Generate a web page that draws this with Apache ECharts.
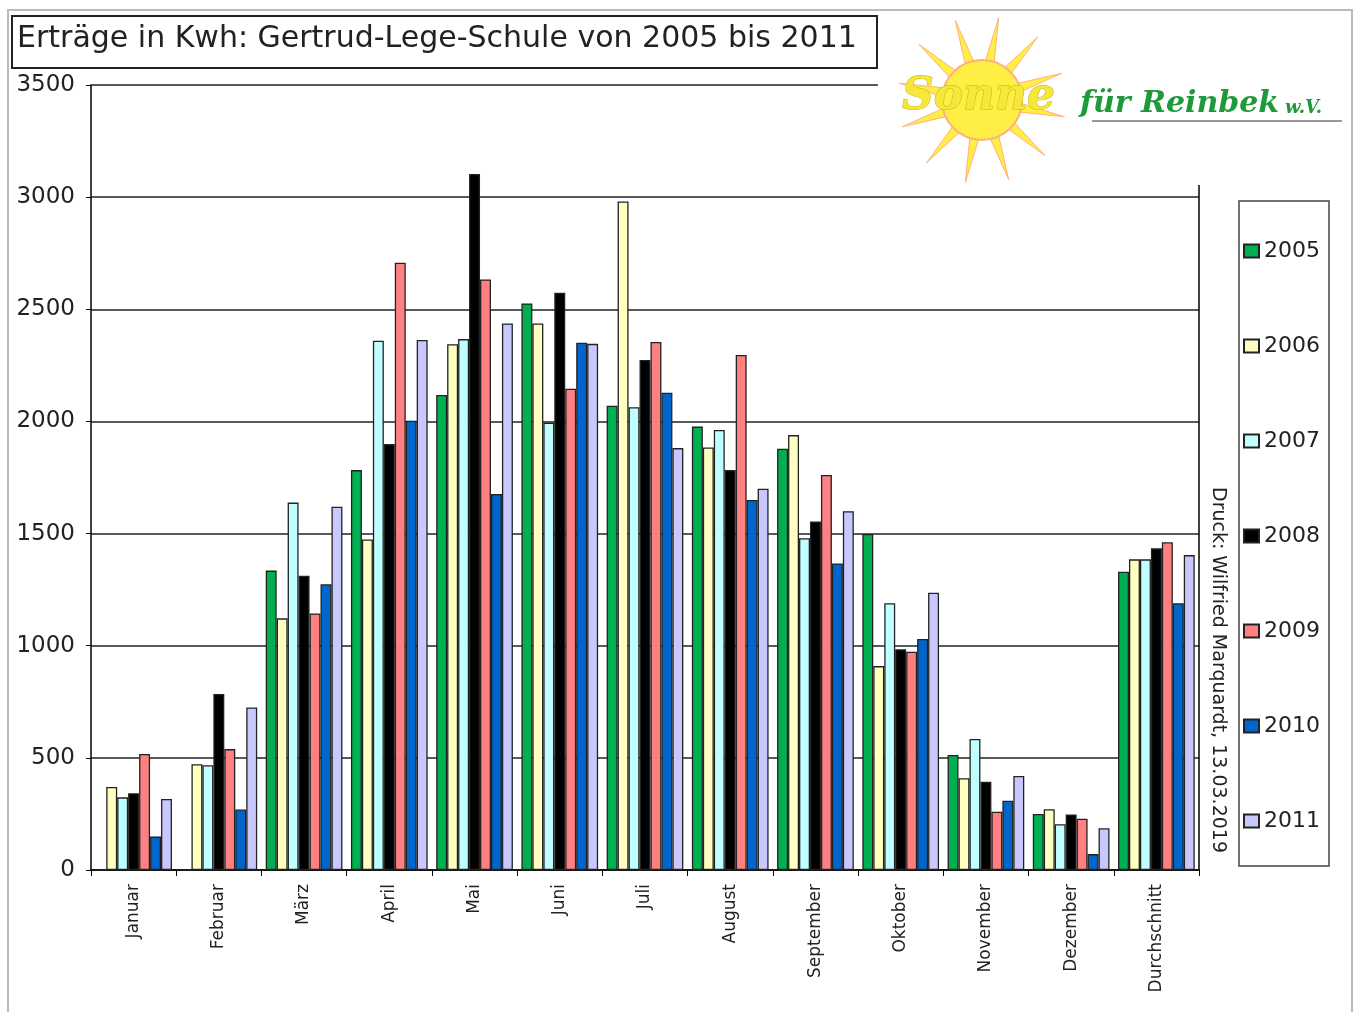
<!DOCTYPE html>
<html>
<head>
<meta charset="utf-8">
<script src="https://cdn.jsdelivr.net/npm/echarts@6/dist/echarts.min.js"></script>
<style>
  html, body { margin: 0; padding: 0; background: #fff; }
  #chart { width: 1354px; height: 1012px; }
</style>
</head>
<body>
<div id="chart"></div>
<script>
const months = ['Januar', 'Februar', 'März', 'April', 'Mai', 'Juni', 'Juli',
  'August', 'September', 'Oktober', 'November', 'Dezember', 'Durchschnitt']
const years = ['2005', '2006', '2007', '2008', '2009', '2010', '2011']
const yearColors = ['#00b050', '#ffffc0', '#c0ffff', '#000000', '#ff8080', '#0066cc', '#c8c8ff']

// Ertrag je Monat, eine Liste pro Jahr
const y2005 = [0, 0, 1335, 1783, 2118, 2526, 2070, 1977, 1878, 1498, 513, 250, 1330]
const y2006 = [370, 472, 1122, 1474, 2344, 2437, 2981, 1884, 1939, 909, 409, 271, 1385]
const y2007 = [324, 467, 1638, 2360, 2367, 1994, 2063, 1962, 1479, 1189, 584, 204, 1385]
const y2008 = [342, 785, 1312, 1899, 3103, 2574, 2274, 1783, 1554, 984, 394, 248, 1434]
const y2009 = [517, 539, 1144, 2708, 2633, 2146, 2354, 2296, 1761, 973, 260, 229, 1461]
const y2010 = [149, 270, 1274, 2003, 1676, 2351, 2128, 1650, 1367, 1030, 309, 71, 1189]
const y2011 = [317, 725, 1620, 2363, 2437, 2346, 1881, 1700, 1600, 1236, 419, 186, 1404]
const yearData = [y2005, y2006, y2007, y2008, y2009, y2010, y2011]

const font = 'DejaVu Sans'
const myChart = echarts.init(document.getElementById('chart'))

// Sonne fürs Logo
const sunX = 982, sunY = 100
const rays = []
for (let i = 0; i < 12; i++) {
  const a = i * Math.PI / 6 + 0.2
  const w = 0.11
  rays.push({
    type: 'polygon',
    shape: {
      points: [
        [sunX + Math.cos(a - w) * 40, sunY + Math.sin(a - w) * 40],
        [sunX + Math.cos(a) * 84, sunY + Math.sin(a) * 84],
        [sunX + Math.cos(a + w) * 40, sunY + Math.sin(a + w) * 40]
      ]
    },
    style: { fill: '#ffee44', stroke: '#ffb080', lineWidth: 1 },
    z: 101
  })
}

myChart.setOption({
  animation: false,
  backgroundColor: '#fff',
  color: yearColors,
  grid: { left: 91, right: 155, top: 85, bottom: 142, containLabel: false },
  legend: {
    orient: 'vertical',
    left: 1243,
    top: 240,
    padding: 0,
    itemWidth: 15,
    itemHeight: 13,
    itemGap: 73,
    icon: 'rect',
    textStyle: { fontFamily: font, fontSize: 22, color: '#222' },
    data: years
  },
  xAxis: {
    type: 'category',
    data: months,
    axisLine: { lineStyle: { color: '#000', width: 1.5 } },
    axisTick: { show: true, length: 6, lineStyle: { color: '#000' } },
    axisLabel: { rotate: 90, fontFamily: font, fontSize: 17, color: '#222', margin: 14 }
  },
  yAxis: {
    type: 'value',
    min: 0,
    max: 3500,
    interval: 500,
    axisLine: { show: true, lineStyle: { color: '#000', width: 1.5 } },
    axisTick: { show: true, length: 5, lineStyle: { color: '#000' } },
    axisLabel: { fontFamily: font, fontSize: 23, color: '#222', margin: 16,
      formatter: v => String(v) },
    splitLine: { lineStyle: { color: '#222', width: 1.5 } }
  },
  series: years.map((y, i) => ({
    name: y,
    type: 'bar',
    data: yearData[i],
    barGap: '0%',
    barCategoryGap: '10%',
    itemStyle: { color: yearColors[i], borderColor: '#222', borderWidth: 1.3 }
  })),
  graphic: [
    // äußerer Rahmen
    { type: 'rect', shape: { x: 8, y: 10, width: 1344, height: 1010 },
      style: { fill: 'none', stroke: '#bbb', lineWidth: 2 }, z: 100 },
    // rechte Rahmenlinie
    { type: 'line', shape: { x1: 1199, y1: 185, x2: 1199, y2: 870 },
      style: { stroke: '#000', lineWidth: 1.5 }, z: 100 },
    // Logo-Fläche deckt Gitterlinie oben rechts ab
    { type: 'rect', shape: { x: 878, y: 72, width: 470, height: 112 },
      style: { fill: '#fff' }, z: 100 },
    // Titel
    { type: 'rect', shape: { x: 12, y: 16, width: 865, height: 52 },
      style: { fill: '#fff', stroke: '#222', lineWidth: 2 }, z: 100 },
    { type: 'text', x: 17, y: 39, z: 101,
      style: { text: 'Erträge in Kwh: Gertrud-Lege-Schule von 2005 bis 2011',
        font: '30px "DejaVu Sans"', fill: '#222', align: 'left', verticalAlign: 'middle' } },
    // Legendenrahmen
    { type: 'rect', shape: { x: 1239, y: 201, width: 90, height: 665 },
      style: { fill: 'none', stroke: '#444', lineWidth: 1.5 }, z: 100 },
    // Druckvermerk
    { type: 'text', x: 1218, y: 487, rotation: -Math.PI / 2, z: 101,
      style: { text: 'Druck: Wilfried Marquardt, 13.03.2019',
        font: '19px "DejaVu Sans"', fill: '#222', align: 'left', verticalAlign: 'middle' } },
    // Logo
    ...rays,
    { type: 'circle', shape: { cx: sunX, cy: sunY, r: 40 },
      style: { fill: '#ffee44', stroke: '#ffb080', lineWidth: 2 }, z: 101 },
    { type: 'text', x: 902, y: 98, z: 102,
      style: { text: 'Sonne', font: 'italic bold 44px "DejaVu Serif"', fill: '#f5e83a',
        stroke: '#c8b010', lineWidth: 1, align: 'left', verticalAlign: 'middle' } },
    { type: 'text', x: 1080, y: 104, z: 102,
      style: { text: 'für Reinbek', font: 'italic bold 30px "DejaVu Serif"', fill: '#1e9a3a',
        align: 'left', verticalAlign: 'middle' } },
    { type: 'text', x: 1285, y: 108, z: 102,
      style: { text: 'w.V.', font: 'italic bold 18px "DejaVu Serif"', fill: '#1e9a3a',
        align: 'left', verticalAlign: 'middle' } },
    { type: 'line', shape: { x1: 1092, y1: 121, x2: 1342, y2: 121 },
      style: { stroke: '#333', lineWidth: 1 }, z: 102 }
  ]
})
</script>
</body>
</html>
